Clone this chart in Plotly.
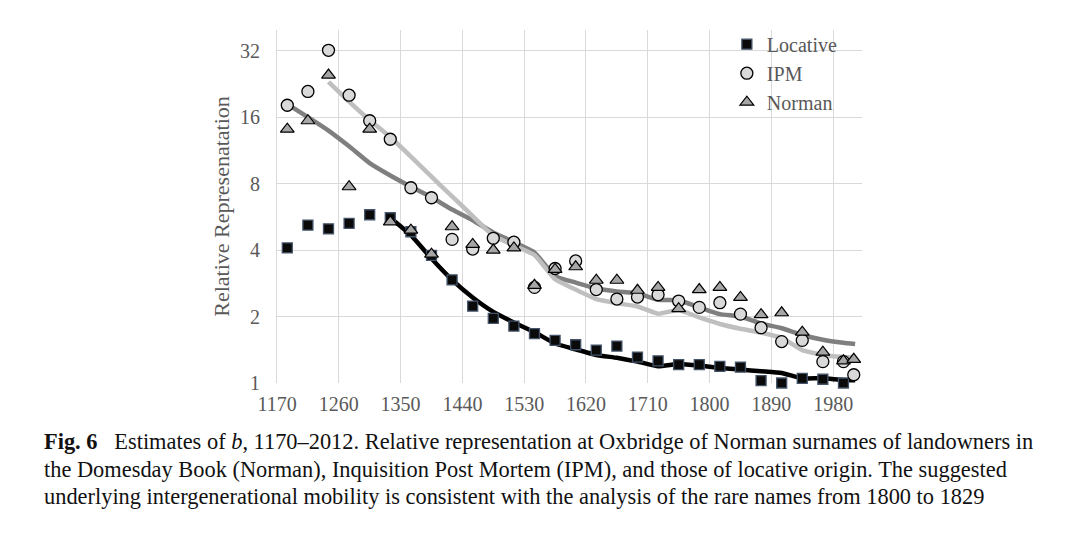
import plotly.graph_objects as go
import math

# Generation mid-years
years = [1185, 1215, 1245, 1275, 1305, 1335, 1365, 1395, 1425, 1455, 1485, 1515,
         1545, 1575, 1605, 1635, 1665, 1695, 1725, 1755, 1785, 1815, 1845, 1875,
         1905, 1935, 1965, 1995, 2010]

locative = [4.09, 5.19, 4.99, 5.28, 5.78, 5.6, 4.84, 3.78, 2.93, 2.23, 1.96, 1.81,
            1.675, 1.56, 1.49, 1.41, 1.47, 1.31, 1.26, 1.21, 1.21, 1.19, 1.18, 1.025,
            1.0, 1.05, 1.04, 1.0, None]

ipm = [18.1, 20.9, 32.1, 20.1, 15.4, 12.7, 7.66, 6.9, 4.47, 4.04, 4.52, 4.34,
       2.71, 3.30, 3.57, 2.65, 2.40, 2.45, 2.51, 2.35, 2.20, 2.31, 2.05, 1.78,
       1.54, 1.56, 1.25, 1.25, 1.09]

norman = [14.1, 15.4, 24.8, 7.74, 14.1, 5.37, 4.92, 3.83, 5.1, 4.24, 4.0, 4.09,
          2.77, 3.27, 3.36, 2.92, 2.92, 2.63, 2.71, 2.17, 2.65, 2.71, 2.44, 2.04,
          2.08, 1.70, 1.38, 1.26, 1.28]

# Fitted (suggested underlying mobility) lines
fit_years_loc = [1335, 1365, 1395, 1425, 1455, 1485, 1515, 1545, 1575, 1605, 1635,
                 1665, 1695, 1725, 1755, 1785, 1815, 1845, 1875, 1905, 1935, 1965,
                 1995, 2012]
fit_loc = [5.6, 4.67, 3.66, 2.93, 2.44, 2.1, 1.88, 1.70, 1.51, 1.42, 1.34,
           1.30, 1.25, 1.19, 1.22, 1.20, 1.17, 1.15, 1.13, 1.11, 1.05, 1.05,
           1.03, 1.03]

fit_years_ipm = [1245, 1275, 1305, 1335, 1365, 1395, 1425, 1455, 1485, 1515, 1545,
                 1575, 1605, 1635, 1665, 1695, 1725, 1755, 1785, 1815, 1845, 1875,
                 1905, 1935, 1965, 1995, 2012]
fit_ipm = [23.1, 18.8, 15.5, 13.0, 10.6, 8.6, 7.0, 5.7, 4.65, 4.2, 3.8,
           2.95, 2.65, 2.4, 2.3, 2.22, 2.06, 2.14, 1.98, 1.85, 1.76, 1.69,
           1.6, 1.41, 1.34, 1.31, 1.31]

fit_years_nor = [1185, 1215, 1245, 1275, 1305, 1335, 1365, 1395, 1425, 1455, 1485,
                 1515, 1545, 1575, 1605, 1635, 1665, 1695, 1725, 1755, 1785, 1815,
                 1845, 1875, 1905, 1935, 1965, 1995, 2012]
fit_nor = [18.3, 16.0, 13.9, 11.8, 9.9, 8.7, 7.74, 6.93, 6.1, 5.46, 4.8,
           4.35, 3.9, 3.05, 2.85, 2.68, 2.6, 2.55, 2.38, 2.37, 2.2, 2.05,
           2.0, 1.86, 1.77, 1.65, 1.57, 1.52, 1.50]

x_ticks = [1170, 1260, 1350, 1440, 1530, 1620, 1710, 1800, 1890, 1980]
y_ticks = [1, 2, 4, 8, 16, 32]

serif = "Liberation Serif, Times New Roman, serif"
grey_txt = "#595959"

fig = go.Figure()

# lines
fig.add_trace(go.Scatter(x=fit_years_nor, y=fit_nor, mode="lines",
                         line=dict(color="#7f7f7f", width=4.5, shape="spline", smoothing=0.4),
                         showlegend=False, hoverinfo="skip"))
fig.add_trace(go.Scatter(x=fit_years_ipm, y=fit_ipm, mode="lines",
                         line=dict(color="#bfbfbf", width=4.5, shape="spline", smoothing=0.4),
                         showlegend=False, hoverinfo="skip"))
fig.add_trace(go.Scatter(x=fit_years_loc, y=fit_loc, mode="lines",
                         line=dict(color="#000000", width=4.5, shape="spline", smoothing=0.4),
                         showlegend=False, hoverinfo="skip"))

# markers
fig.add_trace(go.Scatter(x=years, y=locative, mode="markers", name="Locative",
                         legendgroup="a", cliponaxis=False,
                         marker=dict(symbol="square", size=10, color="#0a0a0a",
                                     line=dict(color="#44546a", width=1.3))))
fig.add_trace(go.Scatter(x=years, y=ipm, mode="markers", name="IPM",
                         legendgroup="b", cliponaxis=False,
                         marker=dict(symbol="circle", size=12, color="#d9d9d9",
                                     line=dict(color="#000000", width=1.3))))
fig.add_trace(go.Scatter(x=years, y=norman, mode="markers", name="Norman",
                         legendgroup="c", cliponaxis=False,
                         marker=dict(symbol="triangle-up", size=12, color="#a6a6a6",
                                     line=dict(color="#000000", width=1.2))))

ymax = math.log10(2 ** 5.31)

fig.update_layout(
    width=1067, height=544,
    margin=dict(l=277, r=205, t=30, b=161),
    paper_bgcolor="white", plot_bgcolor="white",
    font=dict(family=serif, color=grey_txt, size=16),
    legend=dict(x=0.769, y=1.015, xanchor="left", yanchor="top",
                font=dict(family=serif, size=20, color=grey_txt),
                tracegroupgap=0, bgcolor="rgba(0,0,0,0)"),
    xaxis=dict(range=[1170, 2022], tickvals=x_ticks, ticktext=[str(t) for t in x_ticks],
               showgrid=True, gridcolor="#d9d9d9", gridwidth=1, zeroline=False,
               showline=False, ticks="", ticklabelstandoff=7,
               tickfont=dict(family=serif, size=20, color=grey_txt)),
    yaxis=dict(type="log", range=[0, ymax], tickvals=y_ticks,
               ticktext=[str(t) for t in y_ticks],
               showgrid=True, gridcolor="#d9d9d9", gridwidth=1, zeroline=False,
               showline=True, linecolor="#d9d9d9", linewidth=1, ticks="",
               ticklabelstandoff=12,
               tickfont=dict(family=serif, size=20, color=grey_txt),
               title=dict(text="Relative Represenatation", standoff=4,
                          font=dict(family=serif, size=22, color=grey_txt))),
)

caption = [
    "<b>Fig. 6</b>\u2002 Estimates of <i>b</i>, 1170\u20132012. Relative representation at Oxbridge of Norman surnames of landowners in",
    "the Domesday Book (Norman), Inquisition Post Mortem (IPM), and those of locative origin. The suggested",
    "underlying intergenerational mobility is consistent with the analysis of the rare names from 1800 to 1829",
]
ys = [441.5, 469, 496]
for txt, yp in zip(caption, ys):
    fig.add_annotation(text=txt, xref="paper", yref="paper",
                       x=(42 - 277) / 585.0, y=(382.7 - yp) / 352.7,
                       xanchor="left", yanchor="middle", showarrow=False,
                       font=dict(family="Liberation Serif, serif", size=22.4, color="#111111"))

fig.write_html("out.html", config={"displayModeBar": False},
               post_script="document.body.style.margin='0';")
